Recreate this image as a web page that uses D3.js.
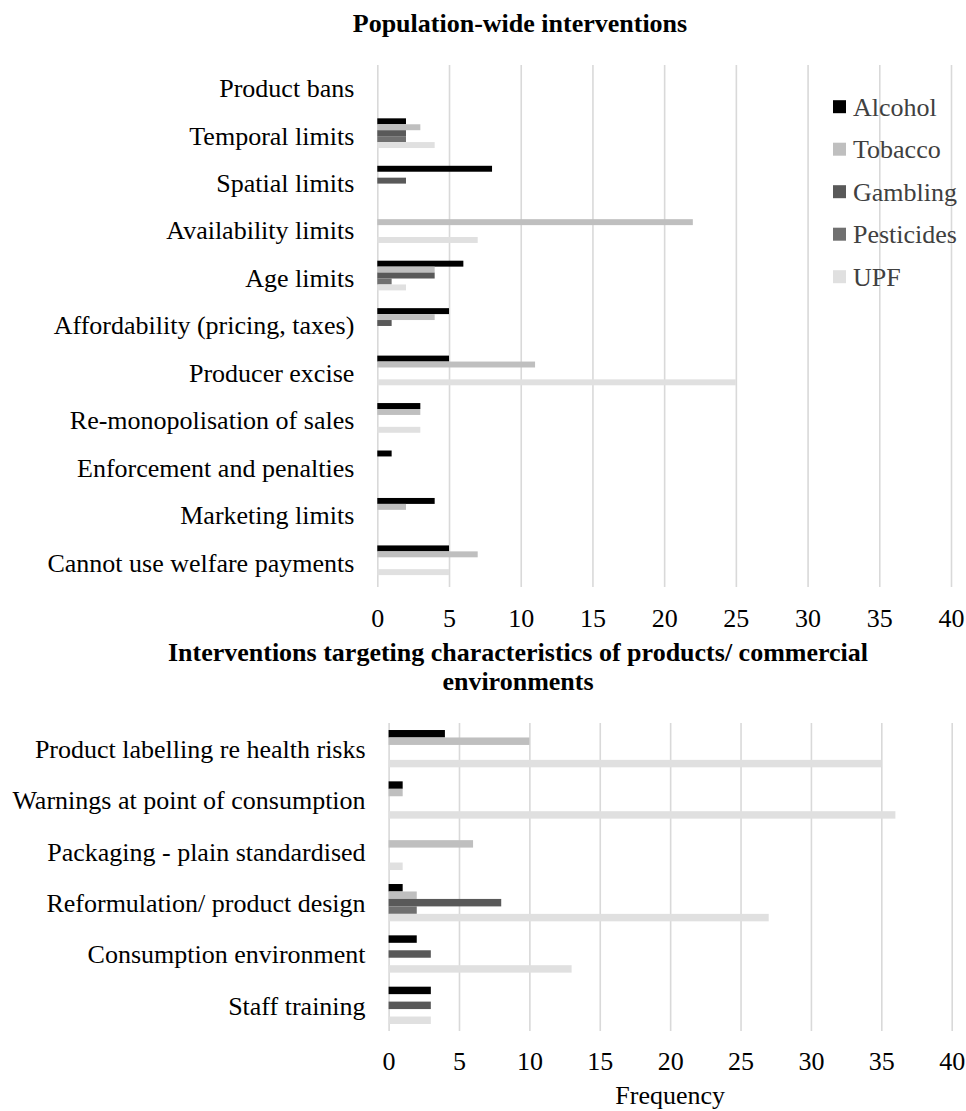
<!DOCTYPE html>
<html><head><meta charset="utf-8">
<script src="https://cdn.jsdelivr.net/npm/d3@7"></script>
<style>
body{margin:0;background:#fff}
svg text{font-family:"Liberation Serif","Tinos","Times New Roman",Times,"DejaVu Serif","Noto Serif",serif !important;fill:#000}
</style>
</head><body>
<svg id="c" width="966" height="1111"></svg>
<script>
// ---------- data ----------
const seriesNames = ["Alcohol","Tobacco","Gambling","Pesticides","UPF"];
const seriesColors = ["#000000","#bfbfbf","#595959","#707070","#e0e0e0"];
const xTicks = [0,5,10,15,20,25,30,35,40];

const topTitle = "Population-wide interventions";
const topCategories = ["Product bans","Temporal limits","Spatial limits","Availability limits","Age limits",
  "Affordability (pricing, taxes)","Producer excise","Re-monopolisation of sales","Enforcement and penalties",
  "Marketing limits","Cannot use welfare payments"];
const topAlcohol    = [0,2,8,0,6,5,5,3,1,4,5];
const topTobacco    = [0,3,0,22,4,4,11,3,0,2,7];
const topGambling   = [0,2,2,0,4,1,0,0,0,0,0];
const topPesticides = [0,2,0,0,1,0,0,0,0,0,0];
const topUPF        = [0,4,0,7,2,0,25,3,0,0,5];

const bottomTitle = ["Interventions targeting characteristics of products/ commercial","environments"];
const bottomCategories = ["Product labelling re health risks","Warnings at point of consumption",
  "Packaging - plain standardised","Reformulation/ product design","Consumption environment","Staff training"];
const bottomAlcohol    = [4,1,0,1,2,3];
const bottomTobacco    = [10,1,6,2,0,0];
const bottomGambling   = [0,0,0,8,3,3];
const bottomPesticides = [0,0,0,2,0,0];
const bottomUPF        = [35,36,1,27,13,3];
const xAxisTitle = "Frequency";

// ---------- drawing ----------
const svg = d3.select("#c");
const color = d3.scaleOrdinal().domain(seriesNames).range(seriesColors);
const FS = 26;

function panel(cfg){
  const x = d3.scaleLinear().domain([0,40]).range([cfg.x0, cfg.x1]);
  const y = d3.scaleBand().domain(cfg.cats).range([cfg.bTop, cfg.bBot]);
  const inner = d3.scaleBand().domain(seriesNames).range([-cfg.groupH/2, cfg.groupH/2]);
  const g = svg.append("g");

  const grid = g.append("g").attr("transform",`translate(0,${cfg.gBot})`)
    .call(d3.axisBottom(x).tickValues(xTicks).tickSize(-(cfg.gBot-cfg.gTop)).tickFormat(""));
  grid.select(".domain").remove();
  grid.selectAll("line").attr("stroke","#d9d9d9").attr("stroke-width",1.6);

  cfg.series.forEach((vals,si)=>{
    const name = seriesNames[si];
    g.append("g").selectAll("rect").data(cfg.cats.map((c,i)=>({c,v:vals[i]})).filter(d=>d.v>0))
      .join("rect")
      .attr("x", x(0))
      .attr("y", d=> y(d.c) + y.bandwidth()/2 + inner(name))
      .attr("width", d=> x(d.v)-x(0))
      .attr("height", inner.bandwidth())
      .attr("fill", color(name));
  });

  const ya = g.append("g").attr("transform",`translate(${cfg.x0},${cfg.labelDy})`)
    .call(d3.axisLeft(y).tickSize(0).tickPadding(23));
  ya.select(".domain").remove();
  ya.selectAll("text").attr("font-size",FS).attr("fill","#000");

  const xa = g.append("g").attr("transform",`translate(0,${cfg.gBot})`)
    .call(d3.axisBottom(x).tickValues(xTicks).tickSize(0).tickPadding(cfg.tickPad));
  xa.select(".domain").remove();
  xa.selectAll("text").attr("font-size",FS).attr("fill","#000");
  return {x,y};
}

svg.append("text").attr("x",520).attr("y",32).attr("text-anchor","middle")
  .attr("font-size",FS).attr("font-weight","bold").text(topTitle);
panel({cats:topCategories, series:[topAlcohol,topTobacco,topGambling,topPesticides,topUPF],
  x0:377.3, x1:951, bTop:62, bBot:584, gTop:65, gBot:587, groupH:29.7, labelDy:3, tickPad:22});

const ly = d3.scalePoint().domain(seriesNames).range([106.7,276.7]);
const leg = svg.append("g");
leg.selectAll("rect").data(seriesNames).join("rect")
  .attr("x",833).attr("y",d=>ly(d)-6.5).attr("width",13).attr("height",13).attr("fill",d=>color(d));
leg.selectAll("text").data(seriesNames).join("text")
  .attr("x",853).attr("y",d=>ly(d)).attr("dy","0.35em").attr("font-size",FS)
  .style("fill","#404040").text(d=>d);

svg.append("g").selectAll("text").data(bottomTitle).join("text")
  .attr("x",518).attr("y",(d,i)=>661+i*29).attr("text-anchor","middle")
  .attr("font-size",FS).attr("font-weight","bold").text(d=>d);
const bp = panel({cats:bottomCategories, series:[bottomAlcohol,bottomTobacco,bottomGambling,bottomPesticides,bottomUPF],
  x0:388.6, x1:951.7, bTop:723, bBot:1031, gTop:723, gBot:1031, groupH:37.3, labelDy:1, tickPad:21});
svg.append("text").attr("x",(bp.x.range()[0]+bp.x.range()[1])/2).attr("y",1104).attr("text-anchor","middle")
  .attr("font-size",FS).text(xAxisTitle);
</script>
</body></html>
